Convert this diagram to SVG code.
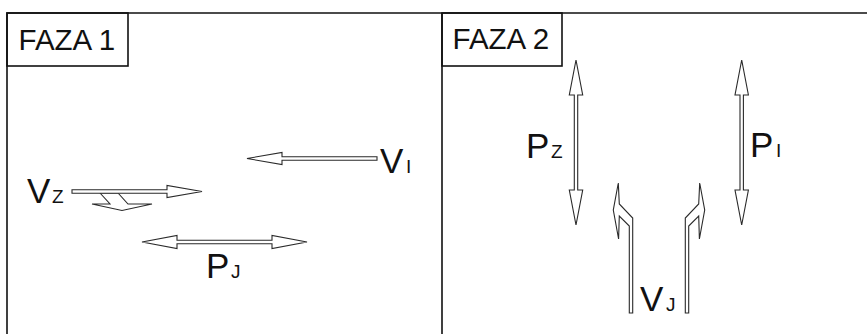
<svg xmlns="http://www.w3.org/2000/svg" width="867" height="334" viewBox="0 0 867 334">
<style>
.frame{fill:none;stroke:#111;stroke-width:1.6}
.arr{fill:#fff;stroke:#2a2a2a;stroke-width:1.1;stroke-linejoin:miter}
.big{font-family:"Liberation Sans",Arial,sans-serif;font-size:35px;fill:#111}
.sub{font-family:"Liberation Sans",Arial,sans-serif;font-size:19px;fill:#111}
.title{font-family:"Liberation Sans",Arial,sans-serif;font-size:29.5px;fill:#111}
</style>
<rect width="867" height="334" fill="#fff"/>
<g id="frame">
  <path class="frame" d="M7,334 V13 H867 M442,13 V334"/>
</g>
<g id="faza1">
  <rect class="frame" x="7" y="13" width="121" height="53"/>
  <text class="title" x="18.5" y="49.5">FAZA 1</text>
</g>
<g id="faza2">
  <rect class="frame" x="442" y="13" width="120" height="53"/>
  <text class="title" x="452.5" y="49">FAZA 2</text>
</g>
<g id="connectors">
  <path id="arrow-vi" class="arr" d="M377,156.8 H282 V152.5 L247,158.5 L282,164.5 V160.2 H377 Z"/>
  <path id="arrow-vz-branch" class="arr" d="M100,193 L110,204 L92,204 L122,210.5 L152,204 L128,204 L118,193 Z"/>
  <path id="arrow-vz" class="arr" d="M72,189.8 H167 V185.5 L202,191.5 L167,197.5 V193.2 H72 Z"/>
  <path id="arrow-pj" class="arr" d="M142,242 L177,235.5 V240.3 H272 V235.5 L307,242 L272,248.5 V243.7 H177 V248.5 Z"/>
  <path id="arrow-pz" class="arr" d="M576,60 L582.7,95 H577.7 V190 H582.7 L576,225 L569.3,190 H574.3 V95 H569.3 Z"/>
  <path id="arrow-pi" class="arr" d="M741.7,60 L748.4,95 H743.4 V190 H748.4 L741.7,225 L735,190 H740 V95 H735 Z"/>
  <path id="arrow-vj-left" class="arr" d="M618.3,183 L619.3,204 L632.7,218 V313 H629.3 V226 L619.3,216 L618.6,239 L613.3,210 Z"/>
  <path id="arrow-vj-right" class="arr" d="M699.7,183 L698.7,204 L685.3,218 V313 H688.7 V226 L698.7,216 L699.4,239 L704.7,210 Z"/>
</g>
<g id="node-vi">
  <text class="big" x="380" y="173">V</text>
  <text class="sub" x="406" y="173">I</text>
</g>
<g id="node-vz">
  <text class="big" x="27" y="203">V</text>
  <text class="sub" x="52" y="203">Z</text>
</g>
<g id="node-pj">
  <text class="big" x="206" y="278">P</text>
  <text class="sub" x="231" y="278">J</text>
</g>
<g id="node-pz">
  <text class="big" x="526" y="158">P</text>
  <text class="sub" x="551" y="158">Z</text>
</g>
<g id="node-pi">
  <text class="big" x="750" y="157">P</text>
  <text class="sub" x="776" y="157">I</text>
</g>
<g id="node-vj">
  <text class="big" x="640" y="311">V</text>
  <text class="sub" x="666" y="311">J</text>
</g>
</svg>
